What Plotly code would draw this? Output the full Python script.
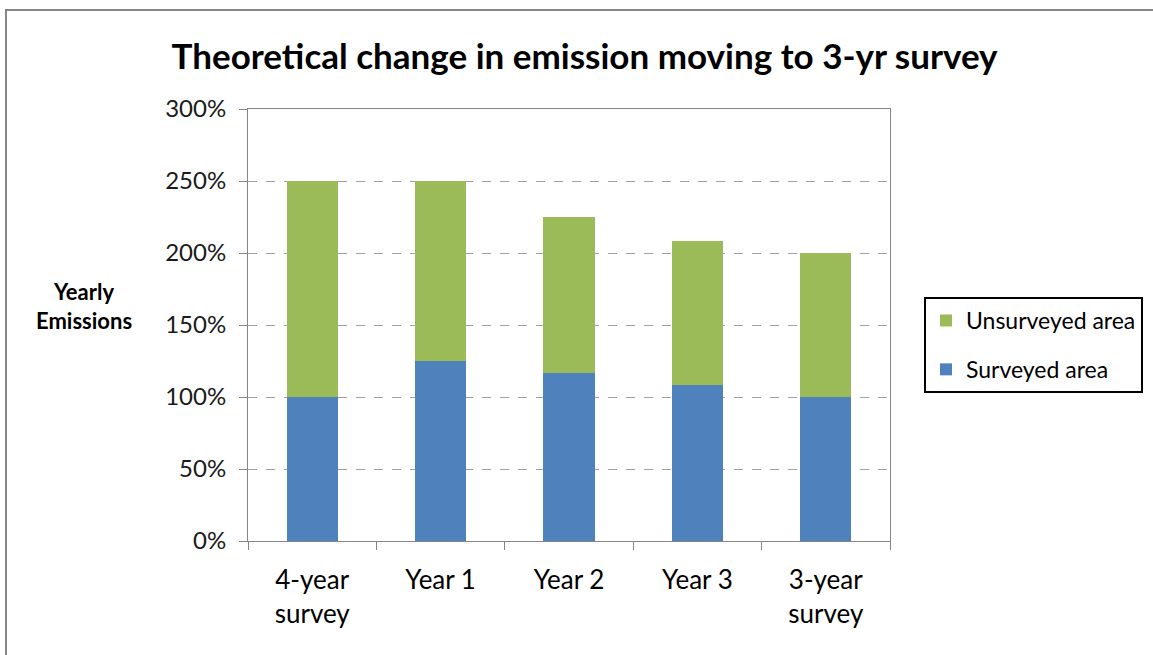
import plotly.graph_objects as go

categories = ["4-year<br>survey", "Year 1", "Year 2", "Year 3", "3-year<br>survey"]
surveyed = [100, 125, 116.7, 108.3, 100]
unsurveyed = [150, 125, 108.3, 100, 100]
y_ticks = [0, 50, 100, 150, 200, 250, 300]
y_tick_labels = [f"{v}%" for v in y_ticks]

FONT = "Lato"
GRAY = "#868686"

fig = go.Figure()
fig.add_trace(go.Bar(name="Surveyed area", x=categories, y=surveyed, legendgroup="s", legendrank=2,
                     marker=dict(color="#4F81BD", line=dict(width=0))))
fig.add_trace(go.Bar(name="Unsurveyed area", x=categories, y=unsurveyed, legendgroup="u", legendrank=1,
                     marker=dict(color="#9BBB59", line=dict(width=0))))

W, H = 1153, 655
L, R, T, B = 248, 890, 109, 541

fig.update_layout(
    width=W, height=H,
    margin=dict(l=L, r=W - R, t=T, b=H - B, autoexpand=False),
    barmode="stack", bargap=0.6,
    paper_bgcolor="white", plot_bgcolor="white",
    font=dict(family=FONT, color="black"),
    title=dict(text="<b>Theoretical change in emission moving to 3-yr survey</b>",
               x=0.507, xanchor="center", y=1 - 57 / H, yanchor="middle",
               font=dict(family=FONT, size=35, color="black")),
    showlegend=True,
    legend=dict(x=(924 - L) / (R - L), xanchor="left",
                y=(B - 297) / (B - T), yanchor="top",
                traceorder="grouped",
                bordercolor="black", borderwidth=2,
                font=dict(family=FONT, size=23, color="black"),
                itemwidth=30, tracegroupgap=16, bgcolor="white"),
    xaxis=dict(type="category", showgrid=False, showline=True, linecolor=GRAY, linewidth=1,
               mirror=True, ticks="outside", tickson="boundaries", ticklen=8, tickcolor=GRAY,
               ticklabelstandoff=16,
               tickfont=dict(family=FONT, size=26, color="black")),
    yaxis=dict(range=[0, 300], tickvals=y_ticks, ticktext=y_tick_labels,
               showgrid=True, gridcolor="#A0A0A0", griddash="dash", gridwidth=1,
               showline=True, linecolor=GRAY, linewidth=1, mirror=True,
               ticks="outside", ticklen=8, tickcolor=GRAY, ticklabelstandoff=8,
               tickfont=dict(family=FONT, size=24, color="#1a1a1a"),
               zeroline=False),
)

fig.add_annotation(text="<b>Yearly<br>Emissions</b>", xref="paper", yref="paper",
                   x=(84 - L) / (R - L), y=(B - 306) / (B - T), xanchor="center", yanchor="middle",
                   showarrow=False, align="center",
                   font=dict(family=FONT, size=22, color="black"))

# Outer chart border
fig.add_shape(type="rect", xref="paper", yref="paper",
              x0=(6 - L) / (R - L), x1=(1170 - L) / (R - L),
              y0=(B - 680) / (B - T), y1=(B - 10) / (B - T),
              line=dict(color=GRAY, width=2), fillcolor="rgba(0,0,0,0)", layer="below")

fig.write_html("out.html")
